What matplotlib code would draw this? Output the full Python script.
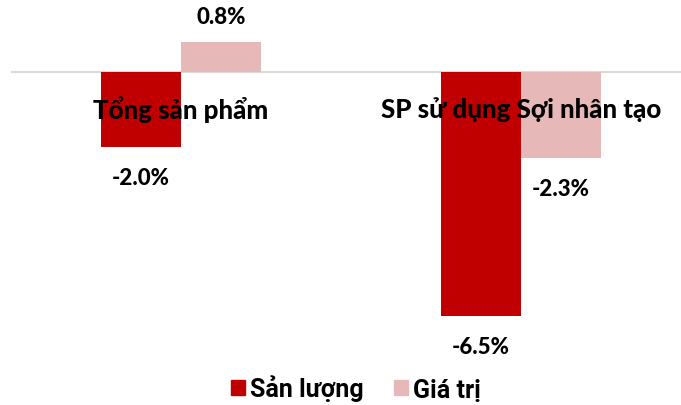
import matplotlib
matplotlib.use("Agg")
import matplotlib.pyplot as plt
from matplotlib.patches import Patch
import numpy as np

categories = ["Tổng sản phẩm", "SP sử dụng Sợi nhân tạo"]
san_luong = [-2.0, -6.5]
gia_tri = [0.8, -2.3]
series_names = ["Sản lượng", "Giá trị"]
colors = ["#C00000", "#E6B8B7"]

W, H = 681, 406
fig = plt.figure(figsize=(W/100, H/100), dpi=100)
ax_left, ax_right = 11, 681
ax_top, ax_bot = 0, 360
ax = fig.add_axes([ax_left/W, 1 - ax_bot/H, (ax_right-ax_left)/W, (ax_bot-ax_top)/H])

px_per_cat = 340.0
px_per_unit = 37.5
ax.set_xlim(-0.5, -0.5 + (ax_right-ax_left)/px_per_cat)
zero_y = 73
ax.set_ylim(-(ax_bot-zero_y)/px_per_unit, zero_y/px_per_unit)

x = np.arange(len(categories))
bw = 80/px_per_cat
off = 40/px_per_cat
b1 = ax.bar(x - off, san_luong, bw, color=colors[0], zorder=2)
b2 = ax.bar(x + off, gia_tri, bw, color=colors[1], zorder=2)
ax.axhline(0, color="#D9D9D9", lw=1.5, zorder=1)

lab_font = dict(family=["Lato", "DejaVu Sans"], fontweight=900, fontsize=16, color="#000000")
for bars, vals in ((b1, san_luong), (b2, gia_tri)):
    for r, v in zip(bars, vals):
        cx = r.get_x() + r.get_width()/2
        if v >= 0:
            ax.annotate(f"{v:.1f}%", (cx, v), xytext=(0, 18.5), textcoords="offset points",
                        ha="center", va="center", **lab_font)
        else:
            ax.annotate(f"{v:.1f}%", (cx, v), xytext=(0, -22), textcoords="offset points",
                        ha="center", va="center", **lab_font)

cat_font = dict(family=["Lato", "DejaVu Sans"], fontweight=900, fontsize=18.6, color="#000000")
for xi, c in zip(x, categories):
    ax.annotate(c, (xi, 0), xytext=(0, -26), textcoords="offset points",
                ha="center", va="center", zorder=5, **cat_font)

for s in ax.spines.values():
    s.set_visible(False)
ax.set_xticks([])
ax.set_yticks([])

handles = [Patch(color=colors[0]), Patch(color=colors[1])]
fig.legend(handles, series_names, loc="center", bbox_to_anchor=(356/W, 1 - 389/H), ncol=2,
           frameon=False, handlelength=0.55, handleheight=0.55, handletextpad=0.2, columnspacing=1.2,
           prop=dict(family=["Roboto", "DejaVu Sans"], weight="bold", size=18))

fig.savefig("out.png", dpi=100)
